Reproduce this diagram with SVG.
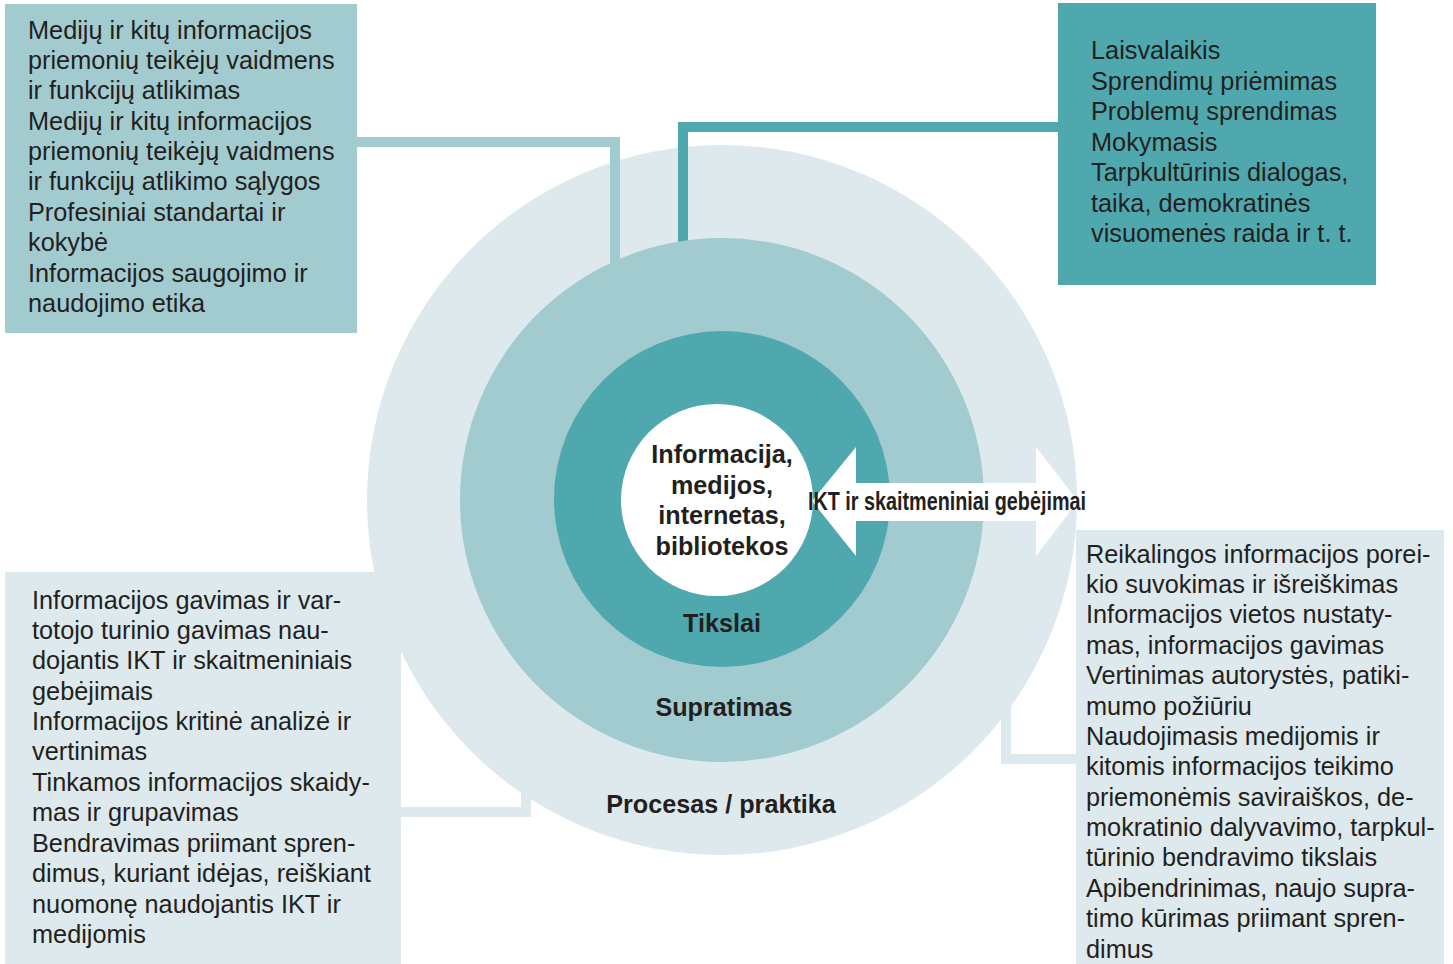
<svg xmlns="http://www.w3.org/2000/svg" width="1453" height="964" viewBox="0 0 1453 964">
<style>
.t{font-family:"Liberation Sans",Arial,sans-serif;font-size:25.3px;fill:#231f20}
.b{font-family:"Liberation Sans",Arial,sans-serif;font-size:25.2px;font-weight:bold;fill:#231f20;text-anchor:middle}
.c1{fill:#dde9ec}.c2{fill:#a2cbd0}.c3{fill:#4fa8ae}
.conn{fill:none;stroke-width:10}
</style>
<rect width="1453" height="964" fill="#ffffff"/>
<g id="rings">
<circle class="c1" cx="722" cy="500" r="355"/>
</g>
<g id="connectors">
<polyline class="conn" stroke="#a2cbd0" points="357,142 615,142 615,270"/>
<polyline class="conn" stroke="#4fa8ae" points="1058,127 683,127 683,340"/>
<polyline class="conn" stroke="#dde9ec" stroke-width="11" points="401,812 526,812 526,780"/>
<polyline class="conn" stroke="#dde9ec" stroke-width="11" points="1076,759 1006,759 1006,700"/>
</g>
<g id="middle">
<circle class="c2" cx="722" cy="500" r="262"/>
<text class="b" x="724" y="716">Supratimas</text>
</g>
<g id="inner">
<circle class="c3" cx="722" cy="499" r="168"/>
<text class="b" x="722" y="632">Tikslai</text>
</g>
<g id="outer-label">
<text class="b" x="721" y="813">Procesas / praktika</text>
</g>
<g id="core">
<circle cx="717" cy="500" r="96" fill="#ffffff"/>
<text class="b" x="722" y="463">Informacija,</text>
<text class="b" x="722" y="494">medijos,</text>
<text class="b" x="722" y="524">internetas,</text>
<text class="b" x="722" y="555">bibliotekos</text>
</g>
<g id="arrow">
<polygon fill="#ffffff" points="812,501 856,447 856,483 1036,483 1036,447 1078,501 1036,556 1036,521 856,521 856,556"/>
<text class="b" x="947" y="510" font-size="23" textLength="278" lengthAdjust="spacingAndGlyphs">IKT ir skaitmeniniai gebėjimai</text>
</g>
<g id="box-top-left">
<rect class="c2" x="5" y="4" width="352" height="329"/>
<text class="t" x="28" y="39">Medijų ir kitų informacijos</text>
<text class="t" x="28" y="69">priemonių teikėjų vaidmens</text>
<text class="t" x="28" y="99">ir funkcijų atlikimas</text>
<text class="t" x="28" y="130">Medijų ir kitų informacijos</text>
<text class="t" x="28" y="160">priemonių teikėjų vaidmens</text>
<text class="t" x="28" y="190">ir funkcijų atlikimo sąlygos</text>
<text class="t" x="28" y="221">Profesiniai standartai ir</text>
<text class="t" x="28" y="251">kokybė</text>
<text class="t" x="28" y="282">Informacijos saugojimo ir</text>
<text class="t" x="28" y="312">naudojimo etika</text>
</g>
<g id="box-top-right">
<rect class="c3" x="1058" y="3" width="318" height="282"/>
<text class="t" x="1091" y="59">Laisvalaikis</text>
<text class="t" x="1091" y="90">Sprendimų priėmimas</text>
<text class="t" x="1091" y="120">Problemų sprendimas</text>
<text class="t" x="1091" y="151">Mokymasis</text>
<text class="t" x="1091" y="181">Tarpkultūrinis dialogas,</text>
<text class="t" x="1091" y="212">taika, demokratinės</text>
<text class="t" x="1091" y="242">visuomenės raida ir t. t.</text>
</g>
<g id="box-bottom-left">
<rect class="c1" x="5" y="572" width="396" height="392"/>
<text class="t" x="32" y="609">Informacijos gavimas ir var-</text>
<text class="t" x="32" y="639">totojo turinio gavimas nau-</text>
<text class="t" x="32" y="669">dojantis IKT ir skaitmeniniais</text>
<text class="t" x="32" y="700">gebėjimais</text>
<text class="t" x="32" y="730">Informacijos kritinė analizė ir</text>
<text class="t" x="32" y="760">vertinimas</text>
<text class="t" x="32" y="791">Tinkamos informacijos skaidy-</text>
<text class="t" x="32" y="821">mas ir grupavimas</text>
<text class="t" x="32" y="852">Bendravimas priimant spren-</text>
<text class="t" x="32" y="882">dimus, kuriant idėjas, reiškiant</text>
<text class="t" x="32" y="913">nuomonę naudojantis IKT ir</text>
<text class="t" x="32" y="943">medijomis</text>
</g>
<g id="box-bottom-right">
<rect class="c1" x="1076" y="530" width="368" height="434"/>
<text class="t" x="1086" y="563">Reikalingos informacijos porei-</text>
<text class="t" x="1086" y="593">kio suvokimas ir išreiškimas</text>
<text class="t" x="1086" y="623">Informacijos vietos nustaty-</text>
<text class="t" x="1086" y="654">mas, informacijos gavimas</text>
<text class="t" x="1086" y="684">Vertinimas autorystės, patiki-</text>
<text class="t" x="1086" y="715">mumo požiūriu</text>
<text class="t" x="1086" y="745">Naudojimasis medijomis ir</text>
<text class="t" x="1086" y="775">kitomis informacijos teikimo</text>
<text class="t" x="1086" y="806">priemonėmis saviraiškos, de-</text>
<text class="t" x="1086" y="836">mokratinio dalyvavimo, tarpkul-</text>
<text class="t" x="1086" y="866">tūrinio bendravimo tikslais</text>
<text class="t" x="1086" y="897">Apibendrinimas, naujo supra-</text>
<text class="t" x="1086" y="927">timo kūrimas priimant spren-</text>
<text class="t" x="1086" y="958">dimus</text>
</g>
</svg>
